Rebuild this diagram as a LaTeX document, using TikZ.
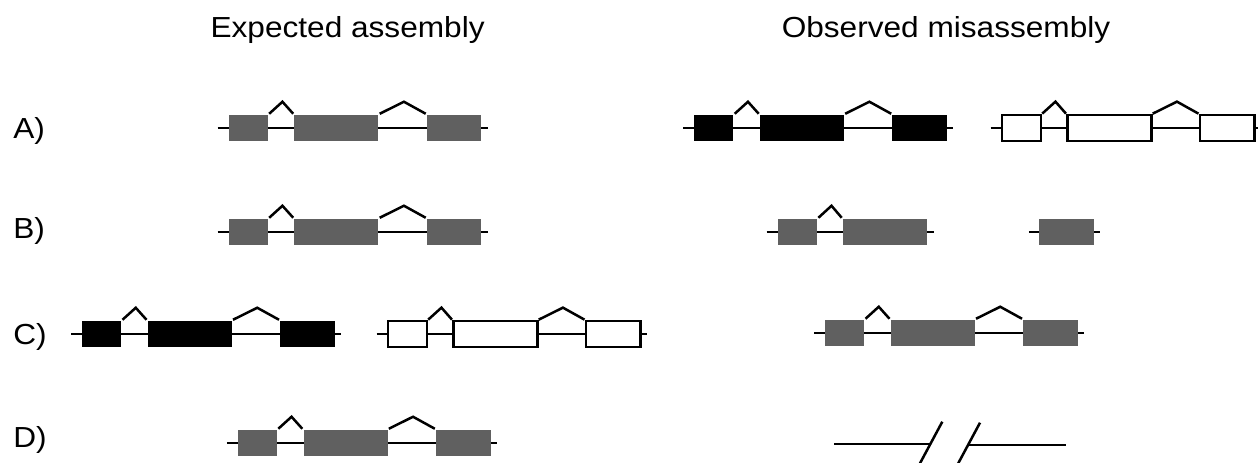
\documentclass[tikz,border=0pt]{standalone}
\usepackage{fontspec}
\setmainfont{Liberation Sans}
\definecolor{exongray}{RGB}{96,96,96}

\begin{document}
\begin{tikzpicture}[x=1pt, y=-1pt, line width=2.5pt,
    exon/.style={rectangle, inner sep=0pt, minimum height=26pt, anchor=west},
    grayexon/.style={exon, fill=exongray},
    blackexon/.style={exon, fill=black},
    whiteexon/.style={exon, fill=white, draw=black, line width=2.7pt},
    heading/.style={inner sep=0pt, anchor=base, font=\fontsize{29}{35}\selectfont},
    rowlabel/.style={inner sep=0pt, anchor=base west, font=\fontsize{29}{35}\selectfont}]
    \useasboundingbox (0,0) rectangle (1258,463);
    % Headings
    \node[heading] (Head-exp) at (347.6,37.3) {\scalebox{1.09}[1]{Expected assembly}};
    \node[heading] (Head-obs) at (946,37.3) {\scalebox{1.09}[1]{Observed misassembly}};
    % Row labels
    \foreach \name/\y in {A/138,B/238,C/344.5,D/447} {
        \node[rowlabel] (Label-\name) at (12,\y) {\scalebox{1.09}[1]{\name)}};
    }
    % Full genes
    \foreach \g/\x/\y/\s in {Aexp/227.7/128/grayexon, Bexp/227.7/232/grayexon,
        Dexp/236.8/443/grayexon, Cobs/824/333/grayexon,
        Aobs1/693.2/128/blackexon, Cexp1/81/334/blackexon,
        Aobs2/1000.5/128/whiteexon, Cexp2/386.5/334/whiteexon} {
        \coordinate (\g-start) at (\x-10,\y);
        \coordinate (\g-end) at (\x+260,\y);
        \draw (\g-start) -- (\g-end);
        \node[\s, minimum width=39pt] (\g-1) at (\x,\y) {};
        \node[\s, minimum width=84pt] (\g-2) at (\x+65.5,\y) {};
        \node[\s, minimum width=54.5pt] (\g-3) at (\x+198,\y) {};
        \draw (\g-1.north east) -- ++(13.25,-12) -- (\g-2.north west);
        \draw (\g-2.north east) -- ++(24.25,-12) -- (\g-3.north west);
    }
    % Observed B: split gene
    \coordinate (Bobs1-start) at (766.5,232);
    \coordinate (Bobs1-end) at (934.3,232);
    \draw (Bobs1-start) -- (Bobs1-end);
    \node[grayexon, minimum width=39.4pt] (Bobs1-1) at (776.5,232) {};
    \node[grayexon, minimum width=84.4pt] (Bobs1-2) at (841.7,232) {};
    \draw (Bobs1-1.north east) -- ++(13.1,-12) -- (Bobs1-2.north west);
    \coordinate (Bobs2-start) at (1028.8,232);
    \coordinate (Bobs2-end) at (1100,232);
    \draw (Bobs2-start) -- (Bobs2-end);
    \node[grayexon, minimum width=55pt] (Bobs2-1) at (1037.5,232) {};
    % Observed D: broken line
    \coordinate (Dobs-start) at (834,444);
    \coordinate (Dobs-cut1) at (930.3,444);
    \coordinate (Dobs-cut2) at (968,445);
    \coordinate (Dobs-end) at (1066,445);
    \coordinate (Slash1-top) at (942.3,421.7);
    \coordinate (Slash1-bot) at (916.4,470);
    \coordinate (Slash2-top) at (980,422.7);
    \coordinate (Slash2-bot) at (954.1,471);
    \draw (Dobs-start) -- (Dobs-cut1);
    \draw (Dobs-cut2) -- (Dobs-end);
    \draw (Slash1-bot) -- (Slash1-top);
    \draw (Slash2-bot) -- (Slash2-top);
\end{tikzpicture}
\end{document}
